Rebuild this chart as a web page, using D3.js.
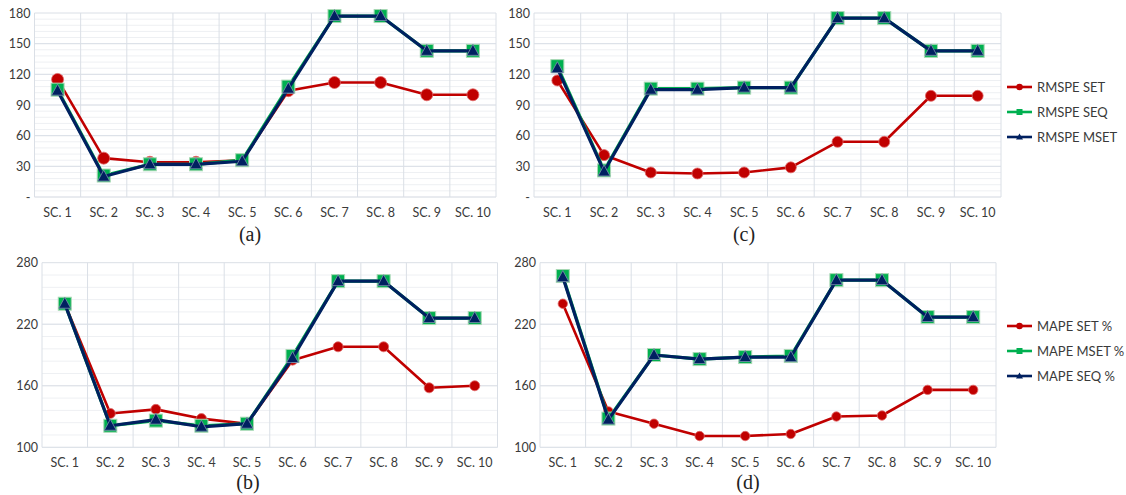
<!DOCTYPE html>
<html lang="en">
<head>
    <meta charset="UTF-8">
    <title>RMSPE and MAPE by scenario</title>
    <script src="https://d3js.org/d3.v7.min.js"></script>
    <style>
        body { margin: 0; background: #fff; }
        .tick text { font-family: Lato, "Open Sans", sans-serif; font-size: 12.5px; fill: #3a3a3a; }
        .legend text { font-family: Lato, "Open Sans", sans-serif; font-size: 13px; fill: #3a3a3a; }
        .caption { font-family: "Liberation Serif", "DejaVu Serif", serif; font-size: 20px; fill: #222; }
    </style>
</head>
<body>
<svg id="chart" width="1126" height="495"></svg>
<script>
    // scenarios
    var categories = ["SC. 1", "SC. 2", "SC. 3", "SC. 4", "SC. 5", "SC. 6", "SC. 7", "SC. 8", "SC. 9", "SC. 10"];

    // (a) RMSPE
    var rmspeSetA  = [115, 38, 34, 34, 36, 104, 112, 112, 100, 100];
    var rmspeSeqA  = [105, 21, 32, 32, 36, 108, 177, 177, 143, 143];
    var rmspeMsetA = [104, 20, 32, 32, 35, 106, 177, 177, 143, 143];

    // (c) RMSPE
    var rmspeSetC  = [114, 41, 24, 23, 24, 29, 54, 54, 99, 99];
    var rmspeSeqC  = [128, 26, 106, 106, 107, 107, 175, 175, 143, 143];
    var rmspeMsetC = [126, 25, 105, 105, 107, 107, 175, 175, 143, 143];

    // (b) MAPE %
    var mapeSetB  = [240, 133, 137, 128, 123, 185, 198, 198, 158, 160];
    var mapeMsetB = [240, 121, 126, 121, 123, 189, 262, 262, 226, 226];
    var mapeSeqB  = [240, 121, 127, 120, 123, 187, 262, 262, 226, 226];

    // (d) MAPE %
    var mapeSetD  = [240, 135, 123, 111, 111, 113, 130, 131, 156, 156];
    var mapeMsetD = [267, 128, 190, 186, 188, 189, 263, 263, 227, 227];
    var mapeSeqD  = [266, 127, 190, 186, 188, 188, 263, 263, 227, 227];

    var rmspeTicks = [0, 30, 60, 90, 120, 150, 180];
    var mapeTicks = [100, 160, 220, 280];

    var rmspeNames = ["RMSPE SET", "RMSPE SEQ", "RMSPE MSET"];
    var mapeNames = ["MAPE SET %", "MAPE MSET %", "MAPE SEQ %"];

    var RED = "#c00000", GREEN = "#00b050", NAVY = "#002060";

    var svg = d3.select("#chart");

    function drawPanel(p) {
        var x = d3.scaleBand().domain(categories).range([p.left, p.right]);
        var y = d3.scaleLinear().domain([p.ticks[0], p.ticks[p.ticks.length - 1]]).range([p.bottom, p.top]);
        var g = svg.append("g");

        // minor + major grid
        var step = (p.ticks[1] - p.ticks[0]) / 5;
        g.selectAll(".minor")
            .data(d3.range(p.ticks[0], y.domain()[1], step))
            .enter().append("line")
            .attr("x1", p.left).attr("x2", p.right)
            .attr("y1", d => y(d)).attr("y2", d => y(d))
            .attr("stroke", "#eef0f3").attr("stroke-width", 1);
        g.selectAll(".major")
            .data(p.ticks)
            .enter().append("line")
            .attr("x1", p.left).attr("x2", p.right)
            .attr("y1", d => y(d)).attr("y2", d => y(d))
            .attr("stroke", "#dadfe6").attr("stroke-width", 1);
        g.selectAll(".vgrid")
            .data(categories.concat([null]))
            .enter().append("line")
            .attr("x1", (d, i) => i < categories.length ? x(d) : p.right)
            .attr("x2", (d, i) => i < categories.length ? x(d) : p.right)
            .attr("y1", p.top).attr("y2", p.bottom)
            .attr("stroke", "#dadfe6").attr("stroke-width", 1);

        // axes
        var ya = g.append("g")
            .attr("transform", "translate(" + (p.left - 2) + ",0)")
            .call(d3.axisLeft(y).tickValues(p.ticks).tickSize(0).tickPadding(2)
                .tickFormat(d => d === 0 ? "-" : d));
        ya.select(".domain").remove();
        var xa = g.append("g")
            .attr("transform", "translate(0," + p.bottom + ")")
            .call(d3.axisBottom(x).tickSize(0).tickPadding(11));
        xa.select(".domain").remove();

        // series
        var line = d3.line().x((d, i) => x(categories[i]) + x.bandwidth() / 2).y(d => y(d));
        var cx = (d, i) => x(categories[i]) + x.bandwidth() / 2;

        p.series.forEach(function(s, k) {
            g.append("path")
                .datum(s.values)
                .attr("fill", "none")
                .attr("stroke", s.color)
                .attr("stroke-width", k === 0 ? 2.6 : 3.2)
                .attr("stroke-linejoin", "round")
                .attr("d", line);
            var m = g.selectAll(".m" + k).data(s.values).enter();
            if (k === 0) {
                m.append("circle")
                    .attr("cx", cx).attr("cy", d => y(d))
                    .attr("r", p.r)
                    .attr("fill", RED).attr("stroke", "#e06666").attr("stroke-width", 0.8);
            } else if (k === 1) {
                m.append("rect")
                    .attr("x", (d, i) => cx(d, i) - 6.5).attr("y", d => y(d) - 6.5)
                    .attr("width", 13).attr("height", 13)
                    .attr("fill", GREEN).attr("stroke", "#a8d8b4").attr("stroke-width", 1);
            } else {
                m.append("path")
                    .attr("transform", (d, i) => "translate(" + cx(d, i) + "," + y(d) + ")")
                    .attr("d", "M0,-6.5L6,4.5L-6,4.5Z")
                    .attr("fill", NAVY).attr("stroke", "#7f8fb0").attr("stroke-width", 0.8);
            }
        });

        // caption
        svg.append("text").attr("class", "caption")
            .attr("x", p.capX).attr("y", p.capY)
            .attr("text-anchor", "middle")
            .text(p.caption);

        // legend
        if (p.legend) {
            var lg = svg.append("g").attr("class", "legend");
            p.series.forEach(function(s, k) {
                var ly = p.legendY + k * 25;
                lg.append("line").attr("x1", 1007).attr("x2", 1032)
                    .attr("y1", ly).attr("y2", ly)
                    .attr("stroke", s.color).attr("stroke-width", 2.6);
                if (k === 0) {
                    lg.append("circle").attr("cx", 1019.5).attr("cy", ly).attr("r", 3.3).attr("fill", RED);
                } else if (k === 1) {
                    lg.append("rect").attr("x", 1016.5).attr("y", ly - 3).attr("width", 6).attr("height", 6).attr("fill", GREEN);
                } else {
                    lg.append("path").attr("transform", "translate(1019.5," + ly + ")")
                        .attr("d", "M0,-3.5L3.5,2.5L-3.5,2.5Z").attr("fill", NAVY);
                }
                lg.append("text").attr("x", 1037).attr("y", ly + 4.5).text(s.name);
            });
        }
    }

    drawPanel({
        left: 34.5, right: 496, top: 13, bottom: 197, ticks: rmspeTicks, r: 6,
        series: [
            { name: rmspeNames[0], values: rmspeSetA, color: RED },
            { name: rmspeNames[1], values: rmspeSeqA, color: GREEN },
            { name: rmspeNames[2], values: rmspeMsetA, color: NAVY }
        ],
        caption: "(a)", capX: 250, capY: 241, legend: false
    });
    drawPanel({
        left: 534, right: 1001, top: 13, bottom: 197, ticks: rmspeTicks, r: 5.5,
        series: [
            { name: rmspeNames[0], values: rmspeSetC, color: RED },
            { name: rmspeNames[1], values: rmspeSeqC, color: GREEN },
            { name: rmspeNames[2], values: rmspeMsetC, color: NAVY }
        ],
        caption: "(c)", capX: 744, capY: 241, legend: true, legendY: 87
    });
    drawPanel({
        left: 42, right: 497.5, top: 262.7, bottom: 447.3, ticks: mapeTicks, r: 5,
        series: [
            { name: mapeNames[0], values: mapeSetB, color: RED },
            { name: mapeNames[1], values: mapeMsetB, color: GREEN },
            { name: mapeNames[2], values: mapeSeqB, color: NAVY }
        ],
        caption: "(b)", capX: 248, capY: 489, legend: false
    });
    drawPanel({
        left: 540, right: 996, top: 262.7, bottom: 447.3, ticks: mapeTicks, r: 4.7,
        series: [
            { name: mapeNames[0], values: mapeSetD, color: RED },
            { name: mapeNames[1], values: mapeMsetD, color: GREEN },
            { name: mapeNames[2], values: mapeSeqD, color: NAVY }
        ],
        caption: "(d)", capX: 748, capY: 489, legend: true, legendY: 326
    });
</script>
</body>
</html>
